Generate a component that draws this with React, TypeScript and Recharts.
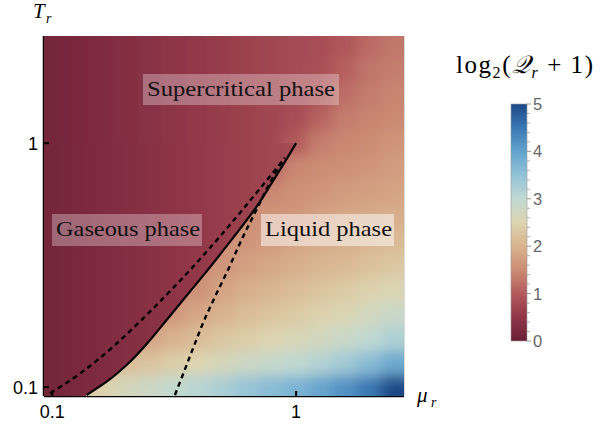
import { ScatterChart, Scatter, XAxis, YAxis, ReferenceLine, Curve } from 'recharts'

// heat map grid (log spaced), reduced chemical potential and temperature
const MU_GRID = [0.1, 0.126, 0.158, 0.2, 0.251, 0.316, 0.398, 0.501, 0.631, 0.794, 1, 1.26, 1.58, 2, 2.51]
const T_GRID = [0.1, 0.126, 0.158, 0.2, 0.251, 0.316, 0.398, 0.501, 0.631, 0.794, 1, 1.26, 1.58, 2, 2.51]

// log2(Q_r + 1) of the liquid / supercritical branch, one row per T_GRID value, bottom -> top
const Q_ROWS = [
  [2.2, 2.25, 2.45, 2.65, 2.8, 2.95, 3.1, 3.25, 3.45, 3.6, 3.75, 3.95, 4.2, 4.5, 5.0],
  [2.0, 2.05, 2.1, 2.15, 2.25, 2.4, 2.5, 2.65, 2.8, 2.9, 3.0, 3.15, 3.35, 3.6, 3.9],
  [1.7, 1.7, 1.75, 1.75, 1.8, 2.0, 2.15, 2.3, 2.4, 2.5, 2.6, 2.7, 2.85, 3.0, 3.2],
  [1.55, 1.55, 1.6, 1.6, 1.6, 1.65, 1.85, 2.0, 2.15, 2.25, 2.35, 2.45, 2.55, 2.7, 2.85],
  [1.5, 1.5, 1.5, 1.5, 1.5, 1.5, 1.55, 1.8, 1.95, 2.05, 2.15, 2.25, 2.35, 2.45, 2.55],
  [1.5, 1.5, 1.5, 1.5, 1.5, 1.5, 1.55, 1.6, 1.75, 1.85, 1.95, 2.05, 2.1, 2.2, 2.3],
  [1.5, 1.5, 1.5, 1.5, 1.5, 1.5, 1.5, 1.55, 1.6, 1.7, 1.8, 1.9, 1.95, 2.05, 2.1],
  [1.45, 1.45, 1.45, 1.45, 1.45, 1.45, 1.45, 1.45, 1.5, 1.6, 1.65, 1.75, 1.85, 1.9, 1.95],
  [0.15, 0.21, 0.28, 0.35, 0.41, 0.48, 0.54, 1.35, 1.4, 1.45, 1.55, 1.6, 1.7, 1.75, 1.8],
  [0.15, 0.21, 0.28, 0.35, 0.41, 0.48, 0.54, 0.61, 0.68, 1.1, 1.45, 1.5, 1.55, 1.6, 1.7],
  [0.15, 0.21, 0.28, 0.35, 0.41, 0.48, 0.54, 0.61, 0.68, 0.74, 1.0, 1.35, 1.45, 1.5, 1.6],
  [0.15, 0.21, 0.28, 0.35, 0.41, 0.48, 0.54, 0.61, 0.68, 0.74, 0.83, 1.1, 1.33, 1.42, 1.48],
  [0.15, 0.21, 0.28, 0.35, 0.41, 0.48, 0.54, 0.61, 0.68, 0.74, 0.81, 0.9, 1.2, 1.33, 1.42],
  [0.15, 0.21, 0.28, 0.35, 0.41, 0.48, 0.54, 0.61, 0.68, 0.74, 0.8, 0.86, 1.05, 1.25, 1.35],
  [0.15, 0.21, 0.28, 0.35, 0.41, 0.48, 0.54, 0.61, 0.68, 0.74, 0.8, 0.83, 0.95, 1.15, 1.28],
]

// gas branch, left of the coexistence line, one value per MU_GRID column up to mu = 1
const GAS_Q = [0.15, 0.21, 0.28, 0.35, 0.41, 0.48, 0.54, 0.61, 0.68, 0.74, 0.8]

// coexistence line (solid)
const MU_COEX = [0.1384, 0.1671, 0.2018, 0.2438, 0.2944, 0.3669, 0.4295, 0.5026, 0.5885, 0.6889, 0.7937, 0.8913, 1]
const T_COEX = [0.0929, 0.1053, 0.1233, 0.1503, 0.1886, 0.2463, 0.2981, 0.3634, 0.4453, 0.5496, 0.6855, 0.8257, 1]
// spinodals (dashed)
const MU_SPIN_GAS = [0.0979, 0.1219, 0.1671, 0.2218, 0.2944, 0.3785, 0.4646, 0.5524, 0.6466, 0.745, 0.8582, 0.8996]
const T_SPIN_GAS = [0.0944, 0.1087, 0.1389, 0.1803, 0.2392, 0.3122, 0.3927, 0.4806, 0.5804, 0.6902, 0.8224, 0.872]
const MU_SPIN_LIQ = [0.3185, 0.3467, 0.3811, 0.4188, 0.4645, 0.5302, 0.605, 0.6908, 0.7884, 0.8913]
const T_SPIN_LIQ = [0.0929, 0.1154, 0.1475, 0.1868, 0.2343, 0.3082, 0.4127, 0.5378, 0.7003, 0.8622]

const AXIS_TICKS = [0.1, 1]
const CBAR_TICKS = [0, 1, 2, 3, 4, 5]
const CBAR_MINOR = [0.2, 0.4, 0.6, 0.8, 1.2, 1.4, 1.6, 1.8, 2.2, 2.4, 2.6, 2.8, 3.2, 3.4, 3.6, 3.8, 4.2, 4.4, 4.6, 4.8]

const CMAP: [number, string][] = [
  [0, '#6a1f35'], [0.5, '#8f3547'], [1, '#b35a5c'], [1.5, '#cc8d75'], [2, '#d9b38f'],
  [2.5, '#ddd5b0'], [3, '#c0d9d2'], [3.5, '#93c3d8'], [4, '#62a2cd'], [4.5, '#3a78b3'], [5, '#1c4886'],
]

const W = 616
const H = 424
const Y_AXIS_W = 44
const X_AXIS_H = 28
const M = { top: 36, right: 212, bottom: 0, left: 0 }
const PLOT_X = M.left + Y_AXIS_W
const PLOT_W = W - PLOT_X - M.right
const PLOT_H = H - M.top - M.bottom - X_AXIS_H
const PLOT_BOTTOM = M.top + PLOT_H
const X_MIN = 0.0925, X_MAX = 2.77
const Y_MIN = 0.092, Y_MAX = 2.75

const STEP_X = Math.log10(MU_GRID[MU_GRID.length - 1] / MU_GRID[0]) / (MU_GRID.length - 1)
const STEP_Y = Math.log10(T_GRID[T_GRID.length - 1] / T_GRID[0]) / (T_GRID.length - 1)
const CELL_W = PLOT_W * STEP_X / Math.log10(X_MAX / X_MIN)
const CELL_H = PLOT_H * STEP_Y / Math.log10(Y_MAX / Y_MIN)
const xPx = (mu: number) => PLOT_X + PLOT_W * Math.log10(mu / X_MIN) / Math.log10(X_MAX / X_MIN)

const heat = Q_ROWS.flatMap((row, j) => row.map((q, i) => ({ mu: MU_GRID[i], T: T_GRID[j], q, i, j })))
const coex = MU_COEX.map((mu, k) => ({ mu, T: T_COEX[k] }))
const spinGas = MU_SPIN_GAS.map((mu, k) => ({ mu, T: T_SPIN_GAS[k] }))
const spinLiq = MU_SPIN_LIQ.map((mu, k) => ({ mu, T: T_SPIN_LIQ[k] }))

const hex = (c: string) => [1, 3, 5].map(k => parseInt(c.slice(k, k + 2), 16))

function qColor(q: number) {
  const v = Math.max(0, Math.min(5, q))
  for (let k = 0; k < CMAP.length - 1; k++) {
    const [a, ca] = CMAP[k]
    const [b, cb] = CMAP[k + 1]
    if (v <= b) {
      const t = (v - a) / (b - a)
      const A = hex(ca), B = hex(cb)
      const rgb = A.map((x, n) => Math.round(x + (B[n] - x) * t))
      return `rgb(${rgb.join(',')})`
    }
  }
  return CMAP[CMAP.length - 1][1]
}

function HeatCell(props: any) {
  const { cx, cy, payload } = props
  if (cx == null || cy == null) return <g />
  let x0 = cx - CELL_W / 2 - 0.5, x1 = cx + CELL_W / 2 + 0.5
  let y0 = cy - CELL_H / 2 - 0.5, y1 = cy + CELL_H / 2 + 0.5
  if (payload.i === 0) x0 -= 30
  if (payload.i === MU_GRID.length - 1) x1 += 30
  if (payload.j === 0) y1 += 30
  if (payload.j === T_GRID.length - 1) y0 -= 30
  return <rect x={x0} y={y0} width={x1 - x0} height={y1 - y0} fill={qColor(payload.q)} />
}

// coexistence line + the gas region to its left (filled with the gas branch)
function CoexLine(props: any) {
  const pts = ((props.points || []) as { x: number; y: number }[]).filter(p => p.x != null && p.y != null)
  if (pts.length < 2) return <g />
  const [p0, p1] = pts
  const yb = PLOT_BOTTOM + 4
  const xb = p0.x - (p1.x - p0.x) * (yb - p0.y) / (p0.y - p1.y)
  const region = [{ x: xb, y: yb }, ...pts]
  return (
    <g>
      <Curve points={region} type="monotoneY" layout="vertical" baseLine={PLOT_X - 3} fill="url(#gasGrad)" stroke="none" />
      <Curve points={pts} type="monotoneY" fill="none" stroke="#000" strokeWidth={2.2} />
    </g>
  )
}

const SANS = '"Liberation Sans", Arial, sans-serif'
const SERIF = '"Liberation Serif", "Times New Roman", serif'

function XTick(props: any) {
  const { x, y, payload } = props
  return (
    <g>
      <line x1={x} x2={x} y1={y} y2={y - 5} stroke="#000" strokeWidth={2} />
      <text x={x} y={y + 22} textAnchor="middle" fontSize={18} fontFamily={SANS} fill="#000">{payload.value}</text>
    </g>
  )
}

function YTick(props: any) {
  const { x, y, payload } = props
  return (
    <g>
      <line x1={x} x2={x + 5} y1={y} y2={y} stroke="#000" strokeWidth={2} />
      <text x={x - 6} y={y + 6.5} textAnchor="end" fontSize={18} fontFamily={SANS} fill="#000">{payload.value}</text>
    </g>
  )
}

const NoDot = () => <g />
const DASHED = { stroke: '#000', strokeWidth: 2.4, strokeDasharray: '5 4', fill: 'none' }

const CB = { x: 511, y: 104, w: 16, h: 237 }
const cbY = (v: number) => CB.y + CB.h - (v / 5) * CB.h

function PhaseLabel({ x, y, w, h, text, tw, alpha }: { x: number; y: number; w: number; h: number; text: string; tw: number; alpha: number }) {
  return (
    <g>
      <rect x={x} y={y} width={w} height={h} fill="#fff" fillOpacity={alpha} />
      <text x={x + 4} y={y + 22} fontSize={22} fontFamily={SERIF} fill="#111" textLength={tw} lengthAdjust="spacingAndGlyphs">{text}</text>
    </g>
  )
}

export default function App() {
  const gx0 = xPx(MU_GRID[0])
  const gx1 = xPx(MU_GRID[GAS_Q.length - 1])
  return (
    <div style={{ position: 'absolute', left: 0, top: 0, width: W, height: H, background: '#fff' }}>
      <style>{`.heat-layer { filter: url(#heatBlur); }`}</style>
      <svg width={0} height={0} style={{ position: 'absolute' }}>
        <defs>
          <filter id="heatBlur" x="-10%" y="-10%" width="120%" height="120%">
            <feGaussianBlur stdDeviation={7} />
          </filter>
          <linearGradient id="gasGrad" gradientUnits="userSpaceOnUse" x1={gx0} y1={0} x2={gx1} y2={0}>
            {GAS_Q.map((q, i) => <stop key={i} offset={i / (GAS_Q.length - 1)} stopColor={qColor(q)} />)}
          </linearGradient>
        </defs>
      </svg>
      <ScatterChart width={W} height={H} margin={M}>
        <XAxis
          dataKey="mu" type="number" scale="log" domain={[X_MIN, X_MAX]} allowDataOverflow
          ticks={AXIS_TICKS} interval={0} height={X_AXIS_H} tickSize={0} tickMargin={0}
          axisLine={{ stroke: '#000', strokeWidth: 2.5 }} tickLine={false} tick={(p: any) => <XTick {...p} />}
        />
        <YAxis
          dataKey="T" type="number" scale="log" domain={[Y_MIN, Y_MAX]} allowDataOverflow
          ticks={AXIS_TICKS} interval={0} width={Y_AXIS_W} tickSize={0} tickMargin={0}
          axisLine={{ stroke: '#000', strokeWidth: 2.5 }} tickLine={false} tick={(p: any) => <YTick {...p} />}
        />
        <Scatter data={heat} shape={HeatCell} className="heat-layer" isAnimationActive={false} />
        <ReferenceLine x={X_MAX} stroke="#cfcfcf" strokeWidth={1.5} ifOverflow="visible" />
        <Scatter data={coex} shape={NoDot} line={CoexLine} isAnimationActive={false} />
        <Scatter data={spinGas} shape={NoDot} line={DASHED} lineJointType="monotoneY" isAnimationActive={false} />
        <Scatter data={spinLiq} shape={NoDot} line={DASHED} lineJointType="monotoneY" isAnimationActive={false} />
      </ScatterChart>

      <svg width={W} height={H} style={{ position: 'absolute', left: 0, top: 0, pointerEvents: 'none' }}>
        <defs>
          <linearGradient id="cbarGrad" x1="0" y1="1" x2="0" y2="0">
            {CMAP.map(([v, c]) => <stop key={v} offset={`${(v / 5) * 100}%`} stopColor={c} />)}
          </linearGradient>
        </defs>

        <PhaseLabel x={143} y={74} w={196} h={31} text="Supercritical phase" tw={188} alpha={0.3} />
        <PhaseLabel x={52} y={214} w={150} h={32} text="Gaseous phase" tw={144} alpha={0.3} />
        <PhaseLabel x={261} y={214} w={133} h={32} text="Liquid phase" tw={127} alpha={0.5} />

        {/* axis titles */}
        <text x={33} y={18} fontSize={21} fontStyle="italic" fontFamily={SERIF} fill="#000">T</text>
        <text x={46} y={23} fontSize={14} fontStyle="italic" fontFamily={SERIF} fill="#000">r</text>
        <text x={417} y={402} fontSize={21} fontStyle="italic" fontFamily={SERIF} fill="#000">μ</text>
        <text x={431} y={407} fontSize={14} fontStyle="italic" fontFamily={SERIF} fill="#000">r</text>

        {/* colour bar */}
        <text x={456} y={73} fontSize={25} fontFamily={SERIF} fill="#000" textLength={137} lengthAdjust="spacing">
          log<tspan fontSize={16} dy={5}>2</tspan><tspan dy={-5}>(</tspan><tspan fontStyle="italic">𝒬</tspan><tspan fontSize={16} fontStyle="italic" dy={5}>r</tspan><tspan dy={-5}> + 1)</tspan>
        </text>
        <rect x={CB.x} y={CB.y} width={CB.w} height={CB.h} fill="url(#cbarGrad)" stroke="#9a9a9a" strokeWidth={0.6} />
        {CBAR_MINOR.map(v => (
          <line key={v} x1={CB.x + CB.w} x2={CB.x + CB.w + 3} y1={cbY(v)} y2={cbY(v)} stroke="#b0b0b0" strokeWidth={1} />
        ))}
        {CBAR_TICKS.map(v => (
          <g key={v}>
            <line x1={CB.x + CB.w} x2={CB.x + CB.w + 4} y1={cbY(v)} y2={cbY(v)} stroke="#999" strokeWidth={1} />
            <text x={533} y={cbY(v) + 6} fontSize={16.5} fontFamily={SANS} fill="#666">{v}</text>
          </g>
        ))}
      </svg>
    </div>
  )
}
